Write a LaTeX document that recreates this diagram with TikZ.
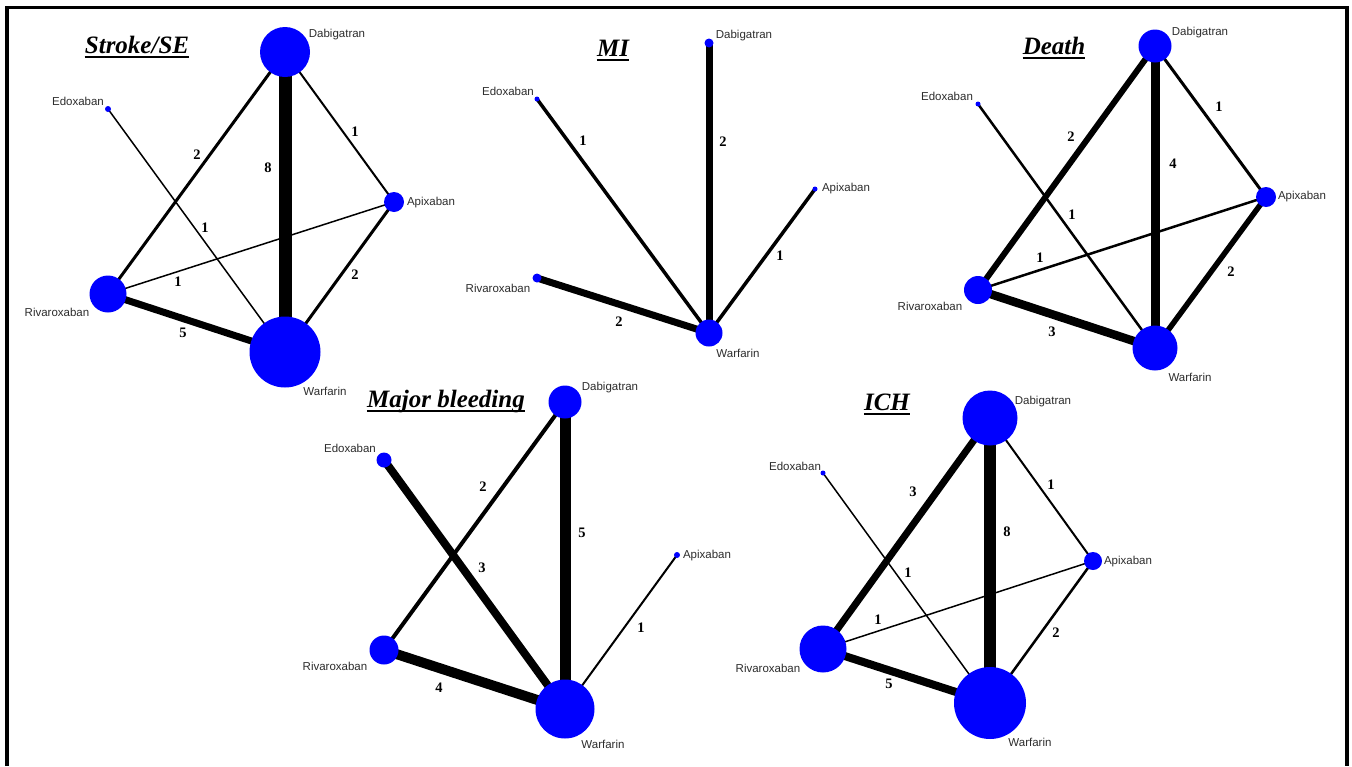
\documentclass[tikz,border=0pt]{standalone}
\usepackage{fontspec}
\setmainfont{Liberation Serif}
\setsansfont{Liberation Sans}
\definecolor{drugblue}{RGB}{0,0,255}
\definecolor{labgray}{RGB}{45,45,45}
\tikzset{
  drug/.style={circle, fill=drugblue, draw=none, inner sep=0pt, minimum size=#1},
  lab/.style={font=\sffamily\fontsize{11.5}{12}\selectfont, text=labgray, inner sep=0pt},
  elab/.style={font=\bfseries\fontsize{14.5}{15}\selectfont, inner sep=0pt},
  ttl/.style={font=\bfseries\itshape\fontsize{25}{25}\selectfont, inner sep=0pt, anchor=base},
  ed/.style={draw=black, line width=#1},
  uline/.style={draw=black, line width=1.5pt}
}
\begin{document}
\begin{tikzpicture}[x=1pt,y=-1pt]
\useasboundingbox (0,0) rectangle (1352,766);
\fill[white] (0,0) rectangle (1352,766);
% frame (open at the bottom)
\coordinate (fbl) at (7,766);
\coordinate (ftl) at (7,7.5);
\coordinate (ftr) at (1347,7.5);
\coordinate (fbr) at (1347,766);
\draw[line width=3.5pt] (fbl) -- (ftl) -- (ftr) -- (fbr);

%% ---------------- Panel 1: Stroke/SE ----------------
\coordinate (D1) at (285,52);
\coordinate (E1) at (108,109);
\coordinate (A1) at (394,202);
\coordinate (R1) at (108,294);
\coordinate (W1) at (285,352);
\draw[ed=13] (D1) -- (W1);
\draw[ed=3]  (D1) -- (R1);
\draw[ed=2]  (D1) -- (A1);
\draw[ed=1.5] (E1) -- (W1);
\draw[ed=1.5] (R1) -- (A1);
\draw[ed=3]  (A1) -- (W1);
\draw[ed=7]  (R1) -- (W1);
\node[drug=50] (cD1) at (D1) {};
\node[drug=6]  (cE1) at (E1) {};
\node[drug=20] (cA1) at (A1) {};
\node[drug=37] (cR1) at (R1) {};
\node[drug=71] (cW1) at (W1) {};
\node[lab] (lD1) at (337,35) {Dabigatran};
\node[lab] (lE1) at (78,101) {Edoxaban};
\node[lab] (lA1) at (431,203) {Apixaban};
\node[lab] (lR1) at (57,312) {Rivaroxaban};
\node[lab] (lW1) at (325,391) {Warfarin};
\node[elab] (n1a) at (268,168) {8};
\node[elab] (n1b) at (197,155) {2};
\node[elab] (n1c) at (355,132) {1};
\node[elab] (n1d) at (205,228) {1};
\node[elab] (n1e) at (178,282) {1};
\node[elab] (n1f) at (355,275) {2};
\node[elab] (n1g) at (183,333) {5};
\node[ttl] (t1) at (137,53) {Stroke/SE};
\draw[uline] ([yshift=-4]t1.base west) -- ([yshift=-4]t1.base east);

%% ---------------- Panel 2: MI ----------------
\coordinate (D2) at (709,43);
\coordinate (E2) at (537,99);
\coordinate (A2) at (815,189);
\coordinate (R2) at (537,278);
\coordinate (W2) at (709,333);
\draw[ed=3.5] (E2) -- (W2);
\draw[ed=7]   (D2) -- (W2);
\draw[ed=3.5] (A2) -- (W2);
\draw[ed=7]   (R2) -- (W2);
\node[drug=9]  (cD2) at (D2) {};
\node[drug=5]  (cE2) at (E2) {};
\node[drug=5]  (cA2) at (A2) {};
\node[drug=9]  (cR2) at (R2) {};
\node[drug=27] (cW2) at (W2) {};
\node[lab] (lD2) at (744,36) {Dabigatran};
\node[lab] (lE2) at (508,91) {Edoxaban};
\node[lab] (lA2) at (846,189) {Apixaban};
\node[lab] (lR2) at (498,288) {Rivaroxaban};
\node[lab] (lW2) at (738,353) {Warfarin};
\node[elab] (n2a) at (583,141) {1};
\node[elab] (n2b) at (723,142) {2};
\node[elab] (n2c) at (780,256) {1};
\node[elab] (n2d) at (619,322) {2};
\node[ttl] (t2) at (613,56) {MI};
\draw[uline] ([yshift=-4]t2.base west) -- ([yshift=-4]t2.base east);

%% ---------------- Panel 3: Death ----------------
\coordinate (D3) at (1155,46);
\coordinate (E3) at (978,104);
\coordinate (A3) at (1266,197);
\coordinate (R3) at (978,290);
\coordinate (W3) at (1155,348);
\draw[ed=9]   (D3) -- (W3);
\draw[ed=6]   (D3) -- (R3);
\draw[ed=3]   (D3) -- (A3);
\draw[ed=2.5] (E3) -- (W3);
\draw[ed=2.5] (R3) -- (A3);
\draw[ed=5.5] (A3) -- (W3);
\draw[ed=8.5] (R3) -- (W3);
\node[drug=33] (cD3) at (D3) {};
\node[drug=5]  (cE3) at (E3) {};
\node[drug=20] (cA3) at (A3) {};
\node[drug=28] (cR3) at (R3) {};
\node[drug=45] (cW3) at (W3) {};
\node[lab] (lD3) at (1200,33) {Dabigatran};
\node[lab] (lE3) at (947,96) {Edoxaban};
\node[lab] (lA3) at (1302,197) {Apixaban};
\node[lab] (lR3) at (930,306) {Rivaroxaban};
\node[lab] (lW3) at (1190,377) {Warfarin};
\node[elab] (n3a) at (1173,164) {4};
\node[elab] (n3b) at (1071,137) {2};
\node[elab] (n3c) at (1219,107) {1};
\node[elab] (n3d) at (1072,215) {1};
\node[elab] (n3e) at (1040,258) {1};
\node[elab] (n3f) at (1231,272) {2};
\node[elab] (n3g) at (1052,332) {3};
\node[ttl] (t3) at (1054,54) {Death};
\draw[uline] ([yshift=-4]t3.base west) -- ([yshift=-4]t3.base east);

%% ---------------- Panel 4: Major bleeding ----------------
\coordinate (D4) at (565,402);
\coordinate (E4) at (384,460);
\coordinate (A4) at (677,555);
\coordinate (R4) at (384,650);
\coordinate (W4) at (565,709);
\draw[ed=11] (D4) -- (W4);
\draw[ed=4]  (D4) -- (R4);
\draw[ed=8]  (E4) -- (W4);
\draw[ed=2]  (A4) -- (W4);
\draw[ed=10] (R4) -- (W4);
\node[drug=33] (cD4) at (D4) {};
\node[drug=15] (cE4) at (E4) {};
\node[drug=6]  (cA4) at (A4) {};
\node[drug=29] (cR4) at (R4) {};
\node[drug=59] (cW4) at (W4) {};
\node[lab] (lD4) at (610,388) {Dabigatran};
\node[lab] (lE4) at (350,448) {Edoxaban};
\node[lab] (lA4) at (707,556) {Apixaban};
\node[lab] (lR4) at (335,666) {Rivaroxaban};
\node[lab] (lW4) at (603,744) {Warfarin};
\node[elab] (n4a) at (582,533) {5};
\node[elab] (n4b) at (483,487) {2};
\node[elab] (n4c) at (482,568) {3};
\node[elab] (n4d) at (641,628) {1};
\node[elab] (n4e) at (439,688) {4};
\node[ttl] (t4) at (446,407) {Major bleeding};
\draw[uline] ([yshift=-4]t4.base west) -- ([yshift=-4]t4.base east);

%% ---------------- Panel 5: ICH ----------------
\coordinate (D5) at (990,418);
\coordinate (E5) at (823,473);
\coordinate (A5) at (1093,561);
\coordinate (R5) at (823,649);
\coordinate (W5) at (990,703);
\draw[ed=12]  (D5) -- (W5);
\draw[ed=7]   (D5) -- (R5);
\draw[ed=2]   (D5) -- (A5);
\draw[ed=1.5] (E5) -- (W5);
\draw[ed=1.5] (R5) -- (A5);
\draw[ed=2.5] (A5) -- (W5);
\draw[ed=8]   (R5) -- (W5);
\node[drug=55] (cD5) at (D5) {};
\node[drug=5]  (cE5) at (E5) {};
\node[drug=18] (cA5) at (A5) {};
\node[drug=47] (cR5) at (R5) {};
\node[drug=72] (cW5) at (W5) {};
\node[lab] (lD5) at (1043,402) {Dabigatran};
\node[lab] (lE5) at (795,466) {Edoxaban};
\node[lab] (lA5) at (1128,562) {Apixaban};
\node[lab] (lR5) at (768,668) {Rivaroxaban};
\node[lab] (lW5) at (1030,742) {Warfarin};
\node[elab] (n5a) at (1007,532) {8};
\node[elab] (n5b) at (913,492) {3};
\node[elab] (n5c) at (1051,485) {1};
\node[elab] (n5d) at (908,573) {1};
\node[elab] (n5e) at (878,620) {1};
\node[elab] (n5f) at (1056,633) {2};
\node[elab] (n5g) at (889,684) {5};
\node[ttl] (t5) at (887,410) {ICH};
\draw[uline] ([yshift=-4]t5.base west) -- ([yshift=-4]t5.base east);
\end{tikzpicture}
\end{document}
